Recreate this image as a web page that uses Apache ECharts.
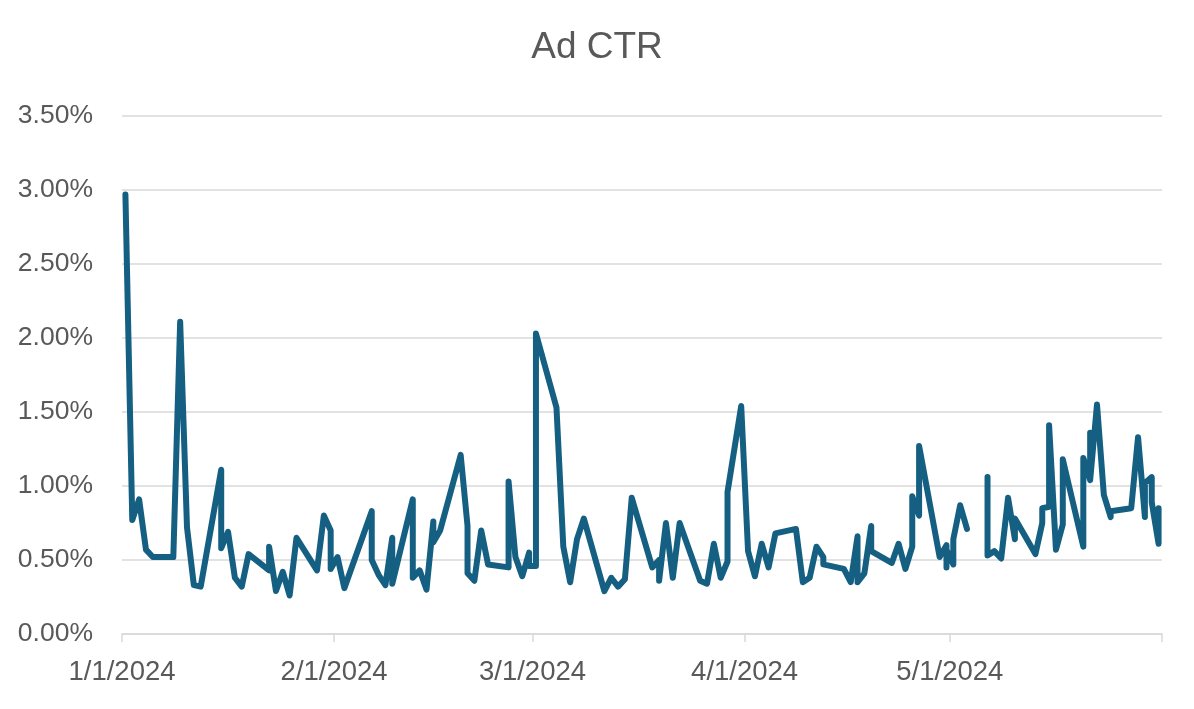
<!DOCTYPE html>
<html><head><meta charset="utf-8">
<script src="https://cdn.jsdelivr.net/npm/echarts@6/dist/echarts.min.js"></script>
<style>html,body{margin:0;padding:0;background:#fff}#c{width:1194px;height:709px}</style>
</head><body><div id="c"></div>
<script>
const chartTitle = 'Ad CTR';
const year = 2024;
// dates (M/D, 2024) and CTR values in percent; null = gap in the series
const dates = [
  '1/1','1/2','1/3','1/4','1/5','1/8','1/9','1/10','1/11','1/12','1/15','1/15','1/16','1/17','1/18','1/19','1/22','1/22','1/23','1/24','1/25','1/26','1/29','1/30','1/31','1/31',
  '2/1','2/2','2/6','2/6','2/7','2/8','2/9','2/9','2/12','2/12','2/13','2/14','2/15','2/15','2/16','2/19','2/20','2/20','2/21','2/22','2/23','2/26','2/26','2/27','2/28','2/29','2/29',
  '3/1','3/1','3/4','3/5','3/6','3/7','3/8','3/11','3/12','3/13','3/14','3/15','3/18','3/19','3/19','3/20','3/21','3/22','3/25','3/26','3/27','3/28','3/29','3/29','3/31',
  '4/1','4/2','4/3','4/4','4/5','4/8','4/9','4/10','4/11','4/12','4/12','4/15','4/16','4/17','4/17','4/18','4/19','4/19','4/22','4/23','4/24','4/25','4/25','4/26','4/26','4/29','4/30','4/30','4/30',
  '5/1','5/1','5/2','5/3','5/4','5/6','5/6','5/7','5/8','5/9','5/10','5/10','5/13','5/14','5/14','5/15','5/15','5/16','5/17','5/17','5/20','5/20','5/21','5/21','5/21','5/22','5/23','5/24','5/24','5/27','5/28','5/29','5/29','5/30','5/30','5/31','5/31'
];
const ctr = [
  2.97,0.77,0.91,0.57,0.52,0.52,2.11,0.72,0.33,0.32,1.11,0.58,0.69,0.38,0.32,0.54,0.43,0.59,0.29,0.42,0.26,0.65,0.43,0.80,0.70,0.44,
  0.52,0.31,0.83,0.50,0.40,0.33,0.65,0.34,0.91,0.38,0.43,0.30,0.76,0.62,0.70,1.21,0.73,0.41,0.36,0.70,0.47,0.45,1.03,0.52,0.39,0.55,0.46,
  0.46,2.03,1.53,0.59,0.35,0.64,0.78,0.29,0.38,0.32,0.37,0.92,0.45,0.50,0.36,0.75,0.38,0.75,0.36,0.34,0.61,0.38,0.49,0.96,1.54,
  0.56,0.39,0.61,0.45,0.68,0.71,0.35,0.38,0.59,0.52,0.47,0.44,0.35,0.66,0.35,0.41,0.73,0.56,0.48,0.61,0.44,0.59,0.93,0.80,1.27,0.52,0.60,0.45,0.57,
  0.47,0.64,0.87,0.71,null,1.06,0.53,0.56,0.51,0.92,0.64,0.78,0.54,0.75,0.85,0.86,1.41,0.57,0.74,1.18,0.59,1.19,1.04,1.36,1.04,1.55,0.94,0.79,0.83,0.85,1.33,0.79,1.02,1.06,0.89,0.61,0.85
];
const monthTicks = ['1/1','2/1','3/1','4/1','5/1','6/1'];
const monthLabels = ['1/1','2/1','3/1','4/1','5/1'];
const yMin = 0, yMax = 3.5, yStep = 0.5;

const DAY = 86400000;
function ts(md){ const [m,d] = md.split('/').map(Number); return new Date(year, m-1, d).getTime(); }
// Excel date axis places each day's point in the middle of its day slot
const seriesData = dates.map((d,i)=>[ts(d) + DAY/2, ctr[i] === null ? '-' : ctr[i]]);

const font = "'Liberation Sans', Arial, sans-serif";
const txt = '#595959';
const gridC = '#d9d9d9';

const chart = echarts.init(document.getElementById('c'), null, {renderer:'canvas'});
chart.setOption({
  backgroundColor:'#ffffff',
  animation:false,
  title:{ text: chartTitle, left:'center', top:24,
    textStyle:{ fontFamily:font, fontSize:37, fontWeight:'normal', color:txt } },
  grid:{ left:122, right:32, top:116, bottom:75, containLabel:false, outerBoundsMode:'none' },
  xAxis:{
    type:'value',
    min: ts(monthTicks[0]), max: ts(monthTicks[monthTicks.length-1]),
    axisLine:{ show:true, lineStyle:{ color:gridC, width:1.5 } },
    axisTick:{ show:true, length:8, lineStyle:{ color:gridC, width:1.5 }, customValues: monthTicks.map(ts) },
    axisLabel:{ fontFamily:font, fontSize:27.5, color:txt, margin:24,
      customValues: monthLabels.map(ts),
      formatter: v => { const d = new Date(v); return (d.getMonth()+1)+'/'+d.getDate()+'/'+d.getFullYear(); } },
    splitLine:{ show:false }
  },
  yAxis:{
    type:'value', min:yMin, max:yMax, interval:yStep,
    axisLine:{ show:false }, axisTick:{ show:false },
    axisLabel:{ fontFamily:font, fontSize:26.5, color:txt, margin:29, formatter: v => v.toFixed(2)+'%' },
    splitLine:{ lineStyle:{ color:gridC, width:1.5 } }
  },
  series:[{
    type:'line', data: seriesData, showSymbol:false, symbol:'none',
    connectNulls:false,
    lineStyle:{ color:'#156082', width:6, join:'round', cap:'round' }
  }]
});
</script></body></html>
